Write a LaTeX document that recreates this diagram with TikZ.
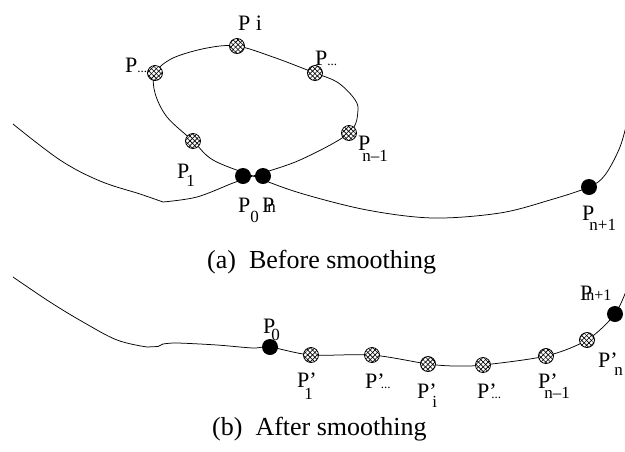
\documentclass[tikz,border=0pt]{standalone}
\usepackage{fontspec}
\setmainfont{Liberation Serif}
\usetikzlibrary{patterns.meta}
\newcommand\Ps[3]{P\kern#1\raisebox{-#2}{\fontsize{17}{17}\selectfont #3}}
\newcommand\Pq[3]{P’\kern#1\raisebox{-#2}{\fontsize{17}{17}\selectfont #3}}
\newcommand\dotsm{{\fontsize{13}{13}\selectfont ...}}
\begin{document}
\begin{tikzpicture}[x=1pt,y=-1pt,
  curve/.style={line width=0.75pt},
  hatch/.style={circle,draw,line width=0.8pt,minimum size=15pt,inner sep=0pt,fill=white,
    postaction={pattern={Lines[angle=45,distance=3.4pt,line width=0.65pt]}},
    postaction={pattern={Lines[angle=-45,distance=3.4pt,line width=0.65pt]}}},
  blackdot/.style={circle,fill=black,minimum size=16pt,inner sep=0pt},
  lab/.style={anchor=base west,inner sep=0pt,font=\fontsize{22}{22}\selectfont},
  captext/.style={anchor=base west,inner sep=0pt,font=\fontsize{26}{30}\selectfont}]
\useasboundingbox (0,0) rectangle (625,451);

% ---------- (a) before smoothing ----------
\coordinate (a0) at (243,176);
\coordinate (an) at (263,176);
\coordinate (a1) at (193,141);
\coordinate (al) at (155,73);
\coordinate (ai) at (237,46);
\coordinate (ar) at (315,73);
\coordinate (am) at (349,133);
\coordinate (ap) at (589,187);

\draw[curve] plot[smooth,tension=0.6] coordinates {(13,124) (60,160) (100,181) (140,194) (163,202)};
\draw[curve] plot[smooth,tension=0.55] coordinates {(163,202) (197,197) (233,183) (253,176) (300,160)
  (am) (358,110) (353,97) (337,82) (ar) (273,57) (ai) (207,48) (173,58) (al) (155,93) (167,117)
  (a1) (213,160) (253,176) (300,193) (367,210) (433,218) (500,213) (550,200) (ap) (605,175) (620,147) (628,118)};

\node[hatch] (A1) at (a1) {};
\node[hatch] (AL) at (al) {};
\node[hatch] (AI) at (ai) {};
\node[hatch] (AR) at (ar) {};
\node[hatch] (AM) at (am) {};
\node[blackdot] (A0) at (a0) {};
\node[blackdot] (AN) at (an) {};
\node[blackdot] (AP) at (ap) {};

\node[lab] (lAI) at (238,30) {P i};
\node[lab] (lAL) at (125,72) {P\dotsm};
\node[lab] (lAR) at (315,65) {P\dotsm};
\node[lab] (lAM) at (358,150) {\Ps{-8pt}{11pt}{n--1}};
\node[lab] (lA1) at (177,178) {\Ps{-3pt}{8pt}{1}};
\node[lab] (lA0) at (238,212) {\Ps{0pt}{10pt}{0}};
\node[lab] (lAN) at (262,212) {P\kern-7pt{\fontsize{17}{17}\selectfont n}};
\node[lab] (lAP) at (582,220) {\Ps{-5pt}{10pt}{n+1}};

\node[captext] (capa) at (207,268) {(a)\hspace{13pt}Before smoothing};

% ---------- (b) after smoothing ----------
\coordinate (b0) at (270,347);
\coordinate (b1) at (311,355);
\coordinate (b2) at (372,355);
\coordinate (bi) at (428,364);
\coordinate (b3) at (483,365);
\coordinate (bm) at (546,356);
\coordinate (bn) at (587,340);
\coordinate (bp) at (615,314);

\draw[curve] plot[smooth,tension=0.6] coordinates {(13,277) (50,302) (83,322) (117,340) (147,347)};
\draw[curve] (147,347) -- (158,346.5) -- (163,344);
\draw[curve] plot[smooth,tension=0.5] coordinates {(163,344) (177,343) (217,345) (253,348) (b0)
  (b1) (b2) (bi) (455,366) (b3) (bm) (bn) (bp) (628,286)};

\node[blackdot] (B0) at (b0) {};
\node[hatch] (B1) at (b1) {};
\node[hatch] (B2) at (b2) {};
\node[hatch] (BI) at (bi) {};
\node[hatch] (B3) at (b3) {};
\node[hatch] (BM) at (bm) {};
\node[hatch] (BN) at (bn) {};
\node[blackdot] (BP) at (bp) {};

\node[lab] (lB0) at (263,333) {\Ps{-4pt}{7pt}{0}};
\node[lab] (lB1) at (297,387) {\Pq{-12.5pt}{12pt}{1}};
\node[lab] (lB2) at (365,388) {P’\kern-4pt\dotsm};
\node[lab] (lBI) at (417,398) {\Pq{-4.5pt}{9pt}{i}};
\node[lab] (lB3) at (477,398) {P’\kern-5.5pt\dotsm};
\node[lab] (lBM) at (538,388) {\Pq{-13.5pt}{10pt}{n--1}};
\node[lab] (lBN) at (598,367) {\Pq{-3.5pt}{8pt}{n}};
\node[lab] (lBP) at (580,300) {P\kern-6pt{\fontsize{16}{16}\selectfont n+1}};

\node[captext] (capb) at (212,435) {(b)\hspace{13pt}After smoothing};
\end{tikzpicture}
\end{document}
